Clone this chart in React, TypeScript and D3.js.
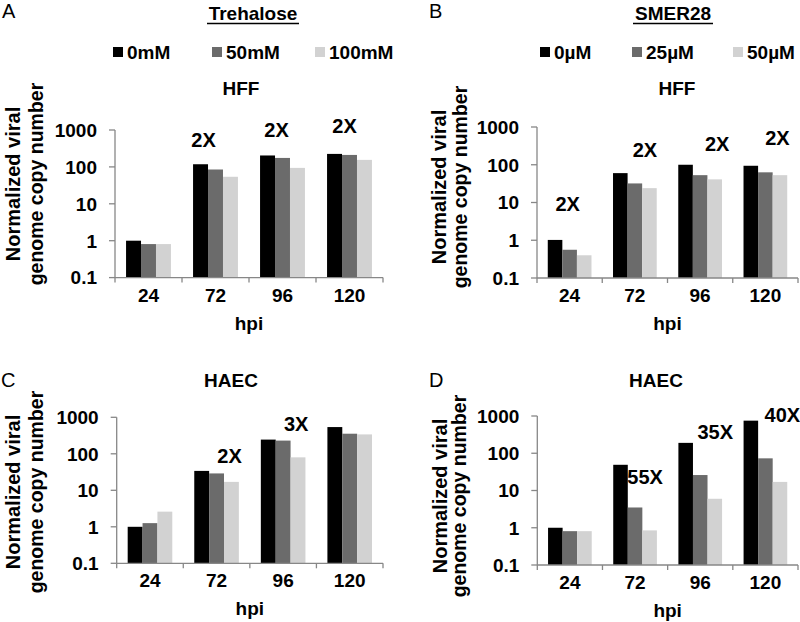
import React from 'react';
import * as d3 from 'd3';

// categories / ticks
const categories = ['24', '72', '96', '120'];
const yTicks = [0.1, 1, 10, 100, 1000];
const seriesColors = ['#000000', '#6b6b6b', '#d2d2d2'];

const trehaloseLegend = ['0mM', '50mM', '100mM'];
const smerLegend = ['0µM', '25µM', '50µM'];

// A: HFF + Trehalose
const aZero = [1, 118, 204, 225];
const aFifty = [0.81, 85, 175, 211];
const aHundred = [0.81, 54, 94, 155];

// B: HFF + SMER28
const bZero = [1.02, 60, 100, 94];
const bTwentyFive = [0.56, 32, 53, 63];
const bFifty = [0.4, 24, 41, 53];

// C: HAEC + Trehalose
const cZero = [1, 34, 245, 540];
const cFifty = [1.26, 29, 230, 355];
const cHundred = [2.6, 17, 80, 340];

// D: HAEC + SMER28
const dZero = [1, 49, 190, 750];
const dTwentyFive = [0.81, 3.5, 26, 73];
const dFifty = [0.81, 0.85, 6, 17];

// fold-change labels: category, text, y value, x shift
const aNotes = [
    { cat: '72', label: '2X', at: 555, dx: -12 },
    { cat: '96', label: '2X', at: 990, dx: -6 },
    { cat: '120', label: '2X', at: 1280, dx: -5 },
];
const bNotes = [
    { cat: '24', label: '2X', at: 9.5, dx: -2 },
    { cat: '72', label: '2X', at: 245, dx: 10 },
    { cat: '96', label: '2X', at: 355, dx: 17 },
    { cat: '120', label: '2X', at: 510, dx: 12 },
];
const cNotes = [
    { cat: '72', label: '2X', at: 86, dx: 13 },
    { cat: '96', label: '3X', at: 675, dx: 13 },
];
const dNotes = [
    { cat: '72', label: '55X', at: 24, dx: 10 },
    { cat: '96', label: '35X', at: 383, dx: 15 },
    { cat: '120', label: '40X', at: 1070, dx: 17 },
];

const FONT = '"Liberation Sans", Arial, sans-serif';
const AXIS = '#878787';

interface PanelProps {
    letter: string;
    letterX: number;
    letterY: number;
    title: string;
    titleX: number;
    titleY: number;
    series: number[][];
    notes: { cat: string; label: string; at: number; dx: number }[];
    x0: number;
    x1: number;
    yTop: number;
    yBottom: number;
    labelY: number;
    labelDx: [number, number];
}

const Panel: React.FC<PanelProps> = ({ letter, letterX, letterY, title, titleX, titleY, series, notes, x0, x1, yTop, yBottom, labelY, labelDx }) => {
    const xScale = d3.scaleBand<string>().domain(categories).range([x0, x1]).paddingInner(0.33).paddingOuter(0.165);
    const sub = d3.scaleBand<number>().domain(d3.range(series.length)).range([0, xScale.bandwidth()]);
    const yScale = d3.scaleLog().domain([0.1, 1000]).range([yBottom, yTop]);
    const step = xScale.step();
    const boundaries = d3.range(categories.length + 1).map(i => x0 + i * step);

    return (
        <g>
            <text x={letterX} y={letterY} fontSize={20} fontFamily={FONT}>{letter}</text>
            <text x={titleX} y={titleY} textAnchor="middle" fontSize={19} fontWeight="bold" fontFamily={FONT}>{title}</text>

            {/* y label */}
            <text transform={`translate(${x0 - labelDx[0]},${labelY}) rotate(-90)`} textAnchor="middle" fontSize={20} fontWeight="bold" fontFamily={FONT}>Normalized viral</text>
            <text transform={`translate(${x0 - labelDx[1]},${labelY}) rotate(-90)`} textAnchor="middle" fontSize={19.5} fontWeight="bold" fontFamily={FONT}>genome copy number</text>

            {/* bars */}
            {categories.map((c, i) => (
                <g key={c}>
                    {series.map((s, k) => (
                        <rect key={k}
                            x={(xScale(c) ?? 0) + (sub(k) ?? 0)}
                            y={yScale(s[i])}
                            width={sub.bandwidth()}
                            height={yBottom - yScale(s[i])}
                            fill={seriesColors[k]} />
                    ))}
                </g>
            ))}

            {/* y axis */}
            <line x1={x0} x2={x0} y1={yScale(1000)} y2={yBottom} stroke={AXIS} strokeWidth={1.3} />
            {yTicks.map(t => (
                <g key={t}>
                    <line x1={x0 - 6} x2={x0} y1={yScale(t)} y2={yScale(t)} stroke={AXIS} strokeWidth={1.3} />
                    <text x={x0 - 18} y={yScale(t)} dy="0.36em" textAnchor="end" fontSize={19} fontWeight="bold" fontFamily={FONT}>{String(t)}</text>
                </g>
            ))}

            {/* x axis */}
            <line x1={x0} x2={x1} y1={yBottom} y2={yBottom} stroke={AXIS} strokeWidth={1.3} />
            {boundaries.map((b, i) => (
                <line key={i} x1={b} x2={b} y1={yBottom} y2={yBottom + 5} stroke={AXIS} strokeWidth={1.3} />
            ))}
            {categories.map(c => (
                <text key={c} x={(xScale(c) ?? 0) + xScale.bandwidth() / 2} y={yBottom + 24} textAnchor="middle" fontSize={19} fontWeight="bold" fontFamily={FONT}>{c}</text>
            ))}
            <text x={(x0 + x1) / 2} y={yBottom + 52} textAnchor="middle" fontSize={19} fontWeight="bold" fontFamily={FONT}>hpi</text>

            {/* fold change */}
            {notes.map((n, i) => (
                <text key={i} x={(xScale(n.cat) ?? 0) + xScale.bandwidth() / 2 + n.dx} y={yScale(n.at)} dy="0.36em" textAnchor="middle" fontSize={20} fontWeight="bold" fontFamily={FONT}>{n.label}</text>
            ))}
        </g>
    );
};

const Legend: React.FC<{ items: string[]; xs: number[]; y: number }> = ({ items, xs, y }) => (
    <g>
        {items.map((it, k) => (
            <g key={it}>
                <rect x={xs[k]} y={y - 5} width={10} height={10} fill={seriesColors[k]} />
                <text x={xs[k] + 14} y={y} dy="0.36em" fontSize={19} fontWeight="bold" fontFamily={FONT}>{it}</text>
            </g>
        ))}
    </g>
);

export default function App() {
    return (
        <svg width={800} height={622} viewBox="0 0 800 622" style={{ position: 'absolute', left: 0, top: 0, background: '#fff' }}>
            {/* drug headers */}
            <text x={253} y={20} textAnchor="middle" fontSize={19} fontWeight="bold" fontFamily={FONT}>Trehalose</text>
            <line x1={207} x2={299} y1={23.5} y2={23.5} stroke="#000" strokeWidth={1.5} />
            <text x={673} y={20} textAnchor="middle" fontSize={19} fontWeight="bold" fontFamily={FONT}>SMER28</text>
            <line x1={633} x2={713} y1={23.5} y2={23.5} stroke="#000" strokeWidth={1.5} />

            <Legend items={trehaloseLegend} xs={[113, 212, 315]} y={52} />
            <Legend items={smerLegend} xs={[540, 632, 733]} y={52} />

            <Panel letter="A" letterX={2} letterY={18} title="HFF" titleX={241} titleY={95}
                series={[aZero, aFifty, aHundred]} notes={aNotes}
                x0={115} x1={383} yTop={130} yBottom={277.6} labelY={184} labelDx={[95, 72]} />
            <Panel letter="B" letterX={429} letterY={18} title="HFF" titleX={677} titleY={95}
                series={[bZero, bTwentyFive, bFifty]} notes={bNotes}
                x0={537} x1={798} yTop={127} yBottom={278} labelY={187} labelDx={[91, 70]} />
            <Panel letter="C" letterX={1} letterY={387} title="HAEC" titleX={231} titleY={387}
                series={[cZero, cFifty, cHundred]} notes={cNotes}
                x0={116.7} x1={383} yTop={417.3} yBottom={563.3} labelY={492} labelDx={[96.5, 74]} />
            <Panel letter="D" letterX={429} letterY={387} title="HAEC" titleX={656} titleY={387}
                series={[dZero, dTwentyFive, dFifty]} notes={dNotes}
                x0={537.3} x1={798} yTop={416} yBottom={565} labelY={496} labelDx={[90, 71]} />
        </svg>
    );
}
